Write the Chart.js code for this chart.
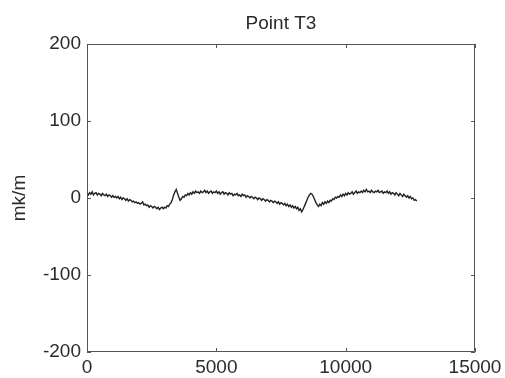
<!DOCTYPE html>
<html>
<head>
<meta charset="utf-8">
<script src="https://cdn.jsdelivr.net/npm/chart.js@4"></script>
<style>
html,body{margin:0;padding:0;background:#fff;}
canvas{display:block;}
</style>
</head>
<body>
<canvas id="c" width="505" height="378"></canvas>
<script>
const titleText = "Point T3";
const yLabel = "mk/m";
const xTicks = [0, 5000, 10000, 15000];
const yTicks = [-200, -100, 0, 100, 200];
const positions = [
  0,50,100,150,200,250,300,350,400,450,500,550,600,650,700,750,800,850,900,950,
  1000,1050,1100,1150,1200,1250,1300,1350,1400,1450,1500,1550,1600,1650,1700,1750,1800,1850,1900,1950,
  2000,2050,2100,2150,2200,2250,2300,2350,2400,2450,2500,2550,2600,2650,2700,2750,2800,2850,2900,2950,
  3000,3050,3100,3150,3200,3250,3300,3350,3400,3450,3500,3550,3600,3650,3700,3750,3800,3850,3900,3950,
  4000,4050,4100,4150,4200,4250,4300,4350,4400,4450,4500,4550,4600,4650,4700,4750,4800,4850,4900,4950,
  5000,5050,5100,5150,5200,5250,5300,5350,5400,5450,5500,5550,5600,5650,5700,5750,5800,5850,5900,5950,
  6000,6050,6100,6150,6200,6250,6300,6350,6400,6450,6500,6550,6600,6650,6700,6750,6800,6850,6900,6950,
  7000,7050,7100,7150,7200,7250,7300,7350,7400,7450,7500,7550,7600,7650,7700,7750,7800,7850,7900,7950,
  8000,8050,8100,8150,8200,8250,8300,8350,8400,8450,8500,8550,8600,8650,8700,8750,8800,8850,8900,8950,
  9000,9050,9100,9150,9200,9250,9300,9350,9400,9450,9500,9550,9600,9650,9700,9750,9800,9850,9900,9950,
  10000,10050,10100,10150,10200,10250,10300,10350,10400,10450,10500,10550,10600,10650,10700,10750,10800,10850,10900,10950,
  11000,11050,11100,11150,11200,11250,11300,11350,11400,11450,11500,11550,11600,11650,11700,11750,11800,11850,11900,11950,
  12000,12050,12100,12150,12200,12250,12300,12350,12400,12450,12500,12550,12600,12650,12700,12750
];
const strain = [
  6,4,7,5,8,4,6,7,4,6,5,3,6,4,3,5,2,4,3,1,
  3,1,2,0,2,-1,1,-2,0,-1,-3,-1,-4,-2,-3,-5,-4,-6,-5,-7,
  -6,-8,-7,-5,-9,-8,-10,-9,-12,-10,-11,-13,-11,-12,-14,-12,-15,-13,-12,-14,
  -12,-13,-10,-11,-8,-6,-2,4,8,11,6,1,-3,-1,2,1,4,3,6,4,
  7,5,8,6,9,7,8,6,9,7,8,10,7,9,6,8,9,6,8,7,
  9,6,8,5,7,8,5,7,6,4,7,5,6,3,5,4,6,3,4,2,
  5,3,4,1,3,2,0,2,1,-1,1,0,-2,0,-1,-3,-1,-2,-4,-2,
  -3,-5,-3,-4,-6,-4,-5,-7,-5,-8,-6,-7,-9,-7,-10,-8,-11,-9,-12,-10,
  -13,-11,-14,-12,-16,-14,-18,-15,-11,-7,-3,1,4,6,5,2,-2,-6,-9,-11,
  -8,-10,-6,-8,-5,-7,-4,-6,-3,-4,-1,-2,1,0,2,1,4,2,5,3,
  6,4,7,5,6,8,5,7,9,6,8,7,9,7,10,8,11,8,9,7,
  10,8,7,9,8,10,7,8,9,6,8,7,9,6,8,5,7,6,4,7,
  5,3,6,4,2,5,3,1,3,0,2,-1,0,-3,-2,-4
];

const FONT = "'Liberation Sans', Arial, sans-serif";
const axisColor = "#555";
const textColor = "#2b2b2b";

const boxTicks = {
  id: 'boxTicks',
  afterDraw(chart) {
    const {ctx, chartArea: a, scales} = chart;
    ctx.save();
    ctx.strokeStyle = axisColor;
    ctx.lineWidth = 1;
    ctx.beginPath();
    ctx.rect(a.left + 0.5, a.top + 0.5, a.right - a.left - 1, a.bottom - a.top - 1);
    ctx.stroke();
    const L = 4;
    ctx.beginPath();
    scales.x.ticks.forEach(t => {
      const px = Math.round(scales.x.getPixelForValue(t.value)) + 0.5;
      ctx.moveTo(px, a.bottom); ctx.lineTo(px, a.bottom - L);
      ctx.moveTo(px, a.top); ctx.lineTo(px, a.top + L);
    });
    scales.y.ticks.forEach(t => {
      const py = Math.round(scales.y.getPixelForValue(t.value)) + 0.5;
      ctx.moveTo(a.left, py); ctx.lineTo(a.left + L, py);
      ctx.moveTo(a.right, py); ctx.lineTo(a.right - L, py);
    });
    ctx.stroke();
    // title centred over the plot area
    ctx.fillStyle = textColor;
    ctx.font = "19px " + FONT;
    ctx.textAlign = 'center';
    ctx.textBaseline = 'alphabetic';
    ctx.fillText(titleText, (a.left + a.right) / 2, 29);
    ctx.restore();
  }
};

new Chart(document.getElementById('c'), {
  type: 'line',
  data: {
    datasets: [{
      data: positions.map((p, i) => ({x: p, y: strain[i]})),
      borderColor: '#222',
      borderWidth: 1.4,
      pointRadius: 0,
      tension: 0,
      fill: false
    }]
  },
  options: {
    responsive: false,
    animation: false,
    layout: {padding: {left: 0, right: 30, top: 44, bottom: 0}},
    plugins: {
      legend: {display: false},
      tooltip: {enabled: false},
      title: {display: false}
    },
    scales: {
      x: {
        type: 'linear',
        min: 0, max: 15000,
        afterBuildTicks(scale) { scale.ticks = xTicks.map(v => ({value: v})); },
        afterFit(scale) { scale.height = 26; scale.paddingLeft = 0; scale.paddingRight = 0; },
        grid: {display: false, drawTicks: false},
        border: {display: false},
        ticks: {
          color: textColor, padding: 4, maxRotation: 0, autoSkip: false,
          font: {family: FONT, size: 19},
          callback: v => String(v)
        }
      },
      y: {
        type: 'linear',
        min: -200, max: 200,
        afterBuildTicks(scale) { scale.ticks = yTicks.map(v => ({value: v})); },
        afterFit(scale) { scale.width = 87; scale.paddingTop = 0; scale.paddingBottom = 0; },
        grid: {display: false, drawTicks: false},
        border: {display: false},
        ticks: {
          color: textColor, padding: 6, autoSkip: false,
          font: {family: FONT, size: 19},
          callback: v => String(v)
        },
        title: {
          display: true,
          text: yLabel,
          color: textColor,
          font: {family: FONT, size: 19},
          padding: {top: 8, bottom: 0}
        }
      }
    }
  },
  plugins: [boxTicks]
});
</script>
</body>
</html>
